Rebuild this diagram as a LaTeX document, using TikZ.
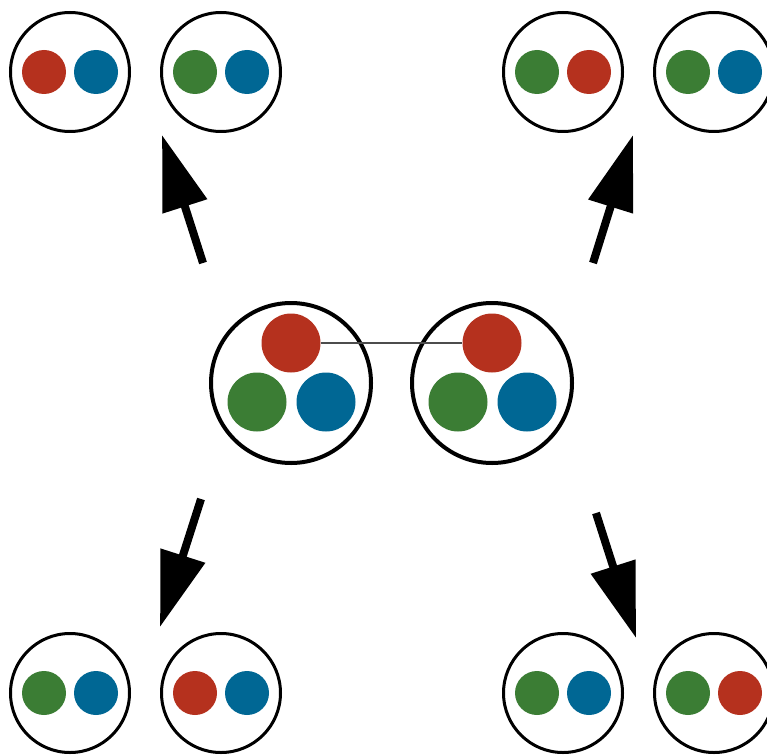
\documentclass[tikz,border=0pt]{standalone}
\usetikzlibrary{arrows.meta}
\definecolor{qred}{RGB}{181,49,30}
\definecolor{qgreen}{RGB}{59,125,52}
\definecolor{qblue}{RGB}{0,103,148}
\begin{document}
\begin{tikzpicture}[x=1pt, y=-1pt,
    meson/.style={draw, line width=3pt, shape=circle, minimum size=119pt, inner sep=0pt},
    baryon/.style={draw, line width=4pt, shape=circle, minimum size=160pt, inner sep=0pt},
    quark/.style={shape=circle, minimum size=44pt, inner sep=0pt},
    bigquark/.style={shape=circle, minimum size=59pt, inner sep=0pt},
    split/.style={line width=8pt, -{Triangle[length=75pt, width=45pt]}}]
        \useasboundingbox (0,0) rectangle (767,754);

        % central pair
        \node[baryon] (bl) at (291,383) {};
        \node[baryon] (br) at (492,383) {};
        \node[bigquark, fill=qred] (blr) at (291,343) {};
        \node[bigquark, fill=qgreen] (blg) at (257,402) {};
        \node[bigquark, fill=qblue] (blb) at (326,402) {};
        \node[bigquark, fill=qred] (brr) at (492,343) {};
        \node[bigquark, fill=qgreen] (brg) at (458,402) {};
        \node[bigquark, fill=qblue] (brb) at (527,402) {};
        \draw[gray!60!black, line width=1.2pt] (blr) -- (brr);

        % top left
        \node[meson] (tl1) at (70,72) {};
        \node[meson] (tl2) at (221,72) {};
        \node[quark, fill=qred] at (44,72) {};\node[quark, fill=qblue] at (96,72) {};
        \node[quark, fill=qgreen] at (195,72) {};\node[quark, fill=qblue] at (247,72) {};

        % top right
        \node[meson] (tr1) at (563,72) {};
        \node[meson] (tr2) at (714,72) {};
        \node[quark, fill=qgreen] at (537,72) {};\node[quark, fill=qred] at (589,72) {};
        \node[quark, fill=qgreen] at (688,72) {};\node[quark, fill=qblue] at (740,72) {};

        % bottom left
        \node[meson] (bl1) at (70,693) {};
        \node[meson] (bl2) at (221,693) {};
        \node[quark, fill=qgreen] at (44,693) {};\node[quark, fill=qblue] at (96,693) {};
        \node[quark, fill=qred] at (195,693) {};\node[quark, fill=qblue] at (247,693) {};

        % bottom right
        \node[meson] (br1) at (563,693) {};
        \node[meson] (br2) at (714,693) {};
        \node[quark, fill=qgreen] at (537,693) {};\node[quark, fill=qblue] at (589,693) {};
        \node[quark, fill=qgreen] at (688,693) {};\node[quark, fill=qred] at (740,693) {};

        % arrows
        \coordinate (a1) at (203,263); \coordinate (b1) at (162,135);
        \coordinate (a2) at (593,263); \coordinate (b2) at (633,135);
        \coordinate (a3) at (201,499); \coordinate (b3) at (160,627);
        \coordinate (a4) at (596,513); \coordinate (b4) at (636,638);
        \draw[split] (a1) -- (b1);
        \draw[split] (a2) -- (b2);
        \draw[split] (a3) -- (b3);
        \draw[split] (a4) -- (b4);

\end{tikzpicture}
\end{document}
